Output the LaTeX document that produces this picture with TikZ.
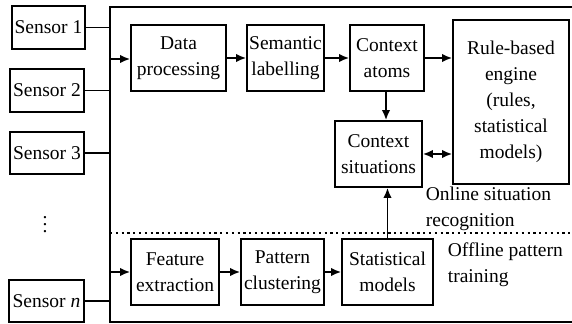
\documentclass[tikz,border=0pt]{standalone}
\usepackage{fontspec}
\setmainfont{Liberation Serif}
\usetikzlibrary{calc}
\usetikzlibrary{arrows.meta}

\begin{document}
\begin{tikzpicture}[>={Latex[length=2mm,width=1.7mm]},x=0.2mm,y=0.2mm,line width=1pt,
                    blk/.style={draw,align=center,inner sep=0pt,font=\fontsize{11.1}{14.8}\selectfont},
                    lbl/.style={align=left,inner sep=0pt,anchor=west,font=\fontsize{11.1}{14.8}\selectfont}]
                        \useasboundingbox (0,0) rectangle (572,-324);
                        \node[blk,minimum width=14.6mm,minimum height=8.6mm] (s1) at (48.5,-27.5) {Sensor 1};
                        \node[blk,minimum width=14.8mm,minimum height=8.6mm] (s2) at (47,-90.5) {Sensor 2};
                        \node[blk,minimum width=14.8mm,minimum height=8.4mm] (s3) at (47,-153) {Sensor 3};
                        \node[blk,minimum width=15mm,minimum height=8.4mm] (sn) at (46.5,-301) {Sensor \textit{n}};
                        \node[blk,draw=none] (dots) at (45,-219) {$\vdots$};
                        \draw (574,-7) -- (110,-7) -- (110,-322) -- (574,-322);
                        \coordinate (bus) at (110,0);
                        \coordinate (bustop) at (110,-59);
                        \coordinate (busbot) at (110,-272);
                        \foreach \s in {s1,s2,s3,sn}
                            \draw (\s.east) -- (\s -| bus);
                        \node[blk,minimum width=19mm,minimum height=13.2mm] (dp) at (178.5,-58) {Data\\processing};
                        \node[blk,minimum width=15.4mm,minimum height=13.2mm] (sl) at (285.5,-58) {Semantic\\labelling};
                        \node[blk,minimum width=14.8mm,minimum height=13.2mm] (ca) at (387,-58) {Context\\atoms};
                        \node[blk,minimum width=17.4mm,minimum height=13.2mm] (cs) at (378.5,-154) {Context\\situations};
                        \node[blk,minimum width=23.2mm,minimum height=32.8mm] (re) at (511,-102) {Rule-based\\engine\\(rules,\\statistical\\models)};
                        \node[blk,minimum width=17.6mm,minimum height=13.2mm] (fe) at (175,-272) {Feature\\extraction};
                        \node[blk,minimum width=16.6mm,minimum height=13.2mm] (pc) at (282.5,-272) {Pattern\\clustering};
                        \node[blk,minimum width=18.2mm,minimum height=13.2mm] (sm) at (387.5,-272) {Statistical\\models};
                        \node[lbl] (on) at (425,-209) {Online situation\\recognition};
                        \node[lbl] (off) at (447,-265) {Offline pattern\\training};
                        \draw[dotted,line width=1.3pt] (110,-233) -- (572,-233);
                        \draw[->] (bustop) -- (dp.west |- bustop);
                        \draw[->] (dp) -- (sl);
                        \draw[->] (sl) -- (ca);
                        \draw[->] (ca) -- (ca -| re.west);
                        \draw[->] ($(ca.south)+(-1,0)$) -- ($(ca.south |- cs.north)+(-1,0)$);
                        \draw[<->] (cs.east) -- (cs -| re.west);
                        \draw[->] (busbot) -- (fe.west |- busbot);
                        \draw[->] (fe) -- (pc);
                        \draw[->] (pc) -- (sm);
                        \draw[->] (sm.north) -- (sm.north |- cs.south);
                    \end{tikzpicture}
\end{document}
